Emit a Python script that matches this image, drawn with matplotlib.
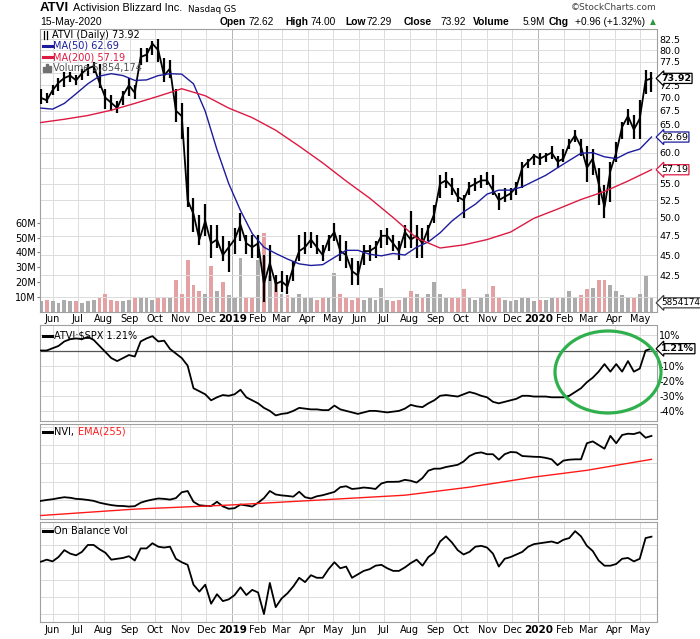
import pandas as pd
import matplotlib
matplotlib.use("Agg")
import matplotlib.pyplot as plt
from matplotlib.lines import Line2D
from matplotlib.patches import Ellipse, Rectangle
from matplotlib.ticker import NullLocator

W, H = 700, 639

# weekly bars (Fridays), 18-May-2018 .. 15-May-2020
first_week = "2018-05-18"
close = [70.0, 69.5, 71.5, 73.0, 74.0, 74.5, 73.5, 75.0, 76.0, 76.5,
         73.0, 70.0, 69.0, 68.0, 70.5, 72.5, 71.0, 78.5, 79.0, 81.5,
         80.0, 74.5, 76.0, 67.5, 66.5, 52.5, 50.5, 47.0, 49.5, 46.5,
         47.0, 45.0, 46.0, 47.0, 49.0, 46.5, 46.0, 46.5, 41.5, 44.0,
         41.5, 41.8, 41.2, 43.5, 45.5, 46.0, 47.0, 46.0, 45.0, 47.0,
         48.0, 45.5, 45.0, 43.0, 42.5, 45.5, 45.5, 46.0, 47.5, 47.5,
         46.5, 45.5, 48.0, 47.0, 47.5, 46.5, 48.5, 50.5, 55.0, 55.5,
         54.5, 53.0, 52.5, 54.5, 55.0, 55.5, 55.5, 54.0, 52.5, 53.0,
         53.5, 54.5, 57.5, 58.5, 59.5, 59.0, 59.5, 60.0, 58.5, 59.0,
         61.5, 63.0, 61.0, 57.5, 59.0, 55.0, 51.5, 57.0, 60.0, 64.5,
         66.5, 64.0, 66.0, 73.5, 73.92]
high = [71.8, 71.0, 72.5, 74.0, 75.3, 75.3, 74.6, 76.0, 77.0, 77.5,
        77.0, 71.8, 70.5, 69.3, 71.3, 73.9, 72.5, 80.5, 80.5, 82.0,
        82.6, 78.2, 77.8, 71.8, 69.0, 64.5, 52.8, 50.4, 52.0, 49.0,
        48.9, 47.5, 46.8, 48.5, 50.6, 47.6, 47.6, 47.6, 45.0, 46.3,
        42.6, 43.0, 42.6, 44.2, 47.6, 48.0, 48.0, 47.6, 46.3, 47.6,
        49.2, 47.6, 46.8, 44.6, 44.2, 46.3, 46.3, 46.8, 48.3, 48.5,
        47.6, 46.8, 48.9, 50.9, 48.9, 48.5, 48.9, 51.8, 56.3, 56.8,
        55.8, 54.3, 53.3, 55.3, 55.8, 56.3, 56.8, 56.3, 53.5, 54.3,
        54.3, 55.3, 58.5, 59.0, 59.8, 60.0, 60.0, 61.2, 59.5, 60.7,
        62.4, 63.9, 62.4, 61.2, 60.7, 57.4, 54.8, 58.5, 61.8, 65.4,
        67.9, 66.6, 69.5, 75.7, 75.3]
low = [68.8, 69.0, 70.5, 71.4, 72.1, 73.2, 72.5, 73.5, 74.5, 75.0,
       72.0, 67.9, 67.5, 67.0, 68.5, 70.4, 69.8, 76.8, 77.3, 79.0,
       77.5, 73.2, 73.9, 65.4, 62.4, 51.5, 48.0, 46.3, 47.5, 44.6,
       45.9, 44.2, 42.9, 45.1, 46.8, 45.1, 44.6, 44.6, 39.4, 41.8,
       40.6, 40.6, 40.3, 41.8, 44.2, 45.1, 45.9, 45.1, 44.2, 45.5,
       46.8, 44.2, 43.4, 41.4, 41.4, 43.8, 44.2, 44.6, 45.9, 46.3,
       45.5, 44.4, 45.9, 45.9, 44.6, 44.6, 46.8, 49.2, 52.8, 54.3,
       53.3, 52.3, 49.9, 53.3, 53.8, 54.3, 54.8, 53.3, 51.1, 52.3,
       52.5, 53.3, 54.3, 57.4, 58.0, 58.0, 58.5, 59.0, 57.4, 58.5,
       60.7, 61.8, 59.5, 55.3, 56.3, 51.8, 49.9, 52.3, 58.5, 62.4,
       64.8, 62.4, 62.4, 70.8, 71.1]
volume_m = [7, 8, 7, 6, 8, 7, 7, 6, 7, 8,
            9, 12, 8, 7, 7, 8, 9, 10, 9, 8,
            9, 10, 9, 21, 12, 35, 18, 14, 12, 31,
            14, 20, 11, 10, 36, 10, 9, 35, 53, 25,
            20, 12, 11, 10, 12, 9, 9, 8, 10, 9,
            26, 12, 10, 8, 9, 8, 9, 8, 16, 8,
            7, 8, 10, 14, 12, 10, 12, 20, 12, 9,
            9, 10, 15, 9, 8, 9, 12, 17, 9, 8,
            7, 8, 10, 9, 7, 8, 8, 9, 10, 9,
            14, 10, 11, 15, 16, 21, 21, 18, 14, 11,
            10, 9, 12, 24, 10]
last_volume = 5854174

# moving averages: MA(50) every 2nd week, MA(200) every 4th week
ma50 = [68.0, 67.8, 68.9, 70.8, 72.8, 74.4, 74.9, 74.5, 73.5, 73.6,
        74.5, 74.9, 74.8, 72.8, 67.4, 60.5, 55.0, 51.0, 47.8, 46.0,
        45.2, 44.5, 43.9, 43.7, 43.8, 44.7, 45.6, 45.6, 45.1, 44.9,
        45.2, 45.0, 46.0, 46.7, 47.9, 49.5, 50.8, 51.9, 53.4, 54.0,
        54.0, 54.5, 55.4, 56.3, 57.5, 58.7, 59.9, 60.0, 59.3, 59.0,
        60.0, 60.6, 62.69]
ma200 = [65.3, 65.9, 66.6, 67.6, 68.9, 70.3, 71.8, 70.4, 68.0, 66.2,
         63.9, 61.1, 58.3, 55.4, 52.8, 50.0, 47.2, 45.9, 46.3, 47.0,
         48.0, 49.9, 51.2, 52.6, 53.8, 55.4, 57.19]

# ATVI:$SPX relative performance (%)
rel_spx = [0, 0, 1.5, 3, 6, 7.5, 8, 7.5, 9, 7,
           3, -1, -5, -7, -5, -3, -4, 6, 8, 9.5,
           6, 6.5, 1, -2, -5, -10, -25, -27, -29, -33,
           -31, -29.5, -30, -29, -26, -31, -33, -35, -38, -40,
           -43, -42, -41.5, -40, -38, -38.5, -39, -39, -39.5, -39.5,
           -36.5, -39, -40, -41, -42, -41, -40, -40, -40.5, -41,
           -40.5, -40, -38.5, -36, -37, -37.5, -35, -33, -30, -29.5,
           -30, -30.5, -29, -27.5, -28.5, -30, -31, -34, -35, -34,
           -33, -32, -30, -30, -30.5, -30.5, -30.5, -31, -31, -31,
           -30, -27.5, -25, -21, -18, -14, -9, -14, -9, -14,
           -7, -14, -12, 0, 1.21]

# NVI and its EMA(255) (no scale shown, relative units)
nvi = [0.95, 1.0, 1.04, 1.1, 1.15, 1.12, 1.06, 1.04, 1.0, 0.95,
       0.85, 0.78, 0.72, 0.68, 0.67, 0.64, 0.66, 0.85, 0.95, 1.02,
       1.08, 1.06, 1.02, 1.1, 1.42, 1.49, 0.9, 0.71, 0.68, 0.67,
       0.9, 0.65, 0.52, 0.55, 0.75, 0.7, 0.64, 0.85, 1.1, 1.49,
       1.3, 1.25, 1.22, 1.18, 1.45, 1.15, 1.08, 1.2, 1.26, 1.35,
       1.44, 1.7, 1.75, 1.6, 1.63, 1.68, 1.65, 1.6, 1.9, 1.99,
       1.99, 2.0, 2.1, 2.05, 1.95, 2.2, 2.6, 2.71, 2.71, 2.8,
       2.86, 2.92, 3.1, 3.4, 3.55, 3.6, 3.5, 3.5, 3.2, 3.5,
       3.62, 3.6, 3.4, 3.38, 3.36, 3.35, 3.3, 3.22, 2.9, 3.15,
       3.2, 3.22, 3.22, 4.1, 4.2, 4.0, 3.8, 4.5, 4.1, 4.55,
       4.62, 4.6, 4.7, 4.4, 4.5]
nvi_ema_weeks = [0, 16, 32, 46, 62, 73, 84, 93, 104]
nvi_ema = [0.15, 0.5, 0.72, 0.97, 1.26, 1.7, 2.25, 2.62, 3.22]

# On Balance Volume (relative units)
obv = [3.03, 3.15, 3.05, 3.3, 3.7, 3.5, 3.4, 3.6, 4.0, 4.0,
       3.75, 3.55, 3.15, 3.2, 3.25, 3.35, 3.1, 3.8, 3.8, 4.1,
       3.9, 3.85, 3.9, 3.2, 3.0, 2.85, 1.7, 1.3, 1.7, 0.6,
       1.15, 0.75, 0.85, 1.1, 1.55, 1.1, 1.4, 1.25, 0.0, 1.8,
       0.4, 0.9, 1.2, 1.6, 2.1, 1.85, 2.25, 2.1, 2.1, 2.6,
       3.0, 2.65, 2.75, 2.1, 2.3, 2.5, 2.6, 2.8, 2.85, 2.65,
       2.5, 2.5, 2.7, 2.95, 3.15, 2.8, 3.3, 3.55, 4.2, 4.5,
       4.15, 3.7, 3.45, 3.6, 3.9, 3.95, 3.85, 3.5, 2.75, 3.2,
       3.3, 3.45, 3.6, 3.9, 4.05, 4.1, 4.15, 4.2, 4.1, 4.3,
       4.4, 4.8, 4.5, 3.95, 3.65, 3.1, 2.8, 2.8, 2.9, 3.2,
       3.25, 3.05, 3.2, 4.4, 4.48]

price_ticks = [40.0, 42.5, 45.0, 47.5, 50.0, 52.5, 55.0, 57.5, 60.0, 62.5,
               65.0, 67.5, 70.0, 72.5, 75.0, 77.5, 80.0, 82.5]
hidden_price_labels = [40.0, 57.5, 62.5, 75.0]   # covered by the value tags
vol_ticks = [10, 20, 30, 40, 50, 60]
rel_ticks = [10, -10, -20, -30, -40]

weeks = pd.date_range(first_week, periods=len(close), freq="7D")
months = pd.date_range("2018-06-01", "2020-05-01", freq="MS")
month_labels = [str(m.year) if m.month == 1 else m.strftime("%b") for m in months]
x_start, x_end = pd.Timestamp("2018-05-17"), pd.Timestamp("2020-05-21")

C_MA50 = "#1c1c9c"
C_MA200 = "#dc1a42"
GRID = "#dcdcdc"

fig = plt.figure(figsize=(W / 100, H / 100), dpi=100)


def rect(top, bottom):
    return [40 / W, 1 - bottom / H, 616.5 / W, (bottom - top) / H]


def px(x, y):
    return x / W, 1 - y / H


def frame(ax, labels=False):
    ax.set_xlim(x_start, x_end)
    for s in ax.spines.values():
        s.set_color("#a0a0a0")
        s.set_linewidth(0.8)
    ax.set_xticks(months)
    if labels:
        ax.set_xticklabels(month_labels, fontsize=7)
        for t in ax.get_xticklabels():
            if t.get_text().isdigit():
                t.set_fontweight("bold")
                t.set_fontsize(7.5)
    else:
        ax.set_xticklabels([])
    ax.tick_params(axis="x", length=0, pad=2)
    ax.yaxis.tick_right()
    ax.tick_params(axis="y", length=0, labelsize=7, pad=2)


def month_lines(ax):
    for m in months:
        ax.axvline(m, color="#b4b4b4" if m.month == 1 else GRID, lw=0.7, zorder=0)


def tag(ax, y, text, ec, coords=None, bold=False, size=6.8):
    ax.annotate(text, xy=(1, y), xycoords=coords or ax.get_yaxis_transform(),
                xytext=(3.5, 0), textcoords="offset points", ha="left", va="center",
                fontsize=size, fontweight="bold" if bold else "normal", color="black",
                bbox=dict(boxstyle="larrow,pad=0.06", fc="white", ec=ec, lw=0.9),
                annotation_clip=False, zorder=6)


# ---- price panel with volume underneath
ax_vol = fig.add_axes(rect(29, 311.5))
up = [True] + [close[i] >= close[i - 1] for i in range(1, len(close))]
ax_vol.bar(weeks, volume_m, width=4.6, color=["#ababab" if u else "#e3a1a4" for u in up],
           align="center", zorder=2)
ax_vol.set_ylim(0, 282.5 / 1.48)
ax_vol.set_xlim(x_start, x_end)
ax_vol.set_xticks([])
ax_vol.set_yticks(vol_ticks)
ax_vol.set_yticklabels(["%dM" % v for v in vol_ticks])
ax_vol.tick_params(axis="y", length=2, labelsize=7, pad=1, color="#808080")
for s in ax_vol.spines.values():
    s.set_visible(False)
month_lines(ax_vol)

ax = fig.add_axes(rect(29, 311.5))
ax.set_facecolor("none")
ax.set_yscale("log")
ax.set_ylim(38.40, 84.92)
ax.set_yticks(price_ticks)
ax.set_yticklabels(["" if t in hidden_price_labels else "%.1f" % t for t in price_ticks])
ax.yaxis.set_minor_locator(NullLocator())
ax.grid(axis="y", color=GRID, lw=0.7)
ax.set_axisbelow(True)
frame(ax, labels=True)
ax.tick_params(axis="y", labelsize=6.8)

ax.vlines(weeks, low, high, color="black", lw=1.6, zorder=3)
ax.plot(weeks, close, color="black", lw=1.3, zorder=3)
ax.plot(weeks[::2], ma50, color=C_MA50, lw=1.0, zorder=4)
ax.plot(weeks[::4], ma200, color=C_MA200, lw=1.0, zorder=4)

tag(ax, close[-1], "%.2f" % close[-1], "black", bold=True)
tag(ax, ma50[-1], "%.2f" % ma50[-1], C_MA50)
tag(ax, ma200[-1], "%.2f" % ma200[-1], C_MA200)
tag(ax, last_volume / 1e6, str(last_volume), "#404040", coords=ax_vol.get_yaxis_transform(), size=6.3)

# legend of price panel
for x0 in (43.5, 47.5):
    fig.add_artist(Line2D([px(x0, 0)[0]] * 2, [px(0, 31)[1], px(0, 39)[1]], color="black", lw=0.9))
fig.text(*px(52, 35), "ATVI (Daily) %.2f" % close[-1], fontsize=7, va="center")
fig.add_artist(Line2D([px(43, 0)[0], px(52, 0)[0]], [px(0, 46)[1]] * 2, color=C_MA50, lw=2.2))
fig.text(*px(53, 46), "MA(50) %.2f" % ma50[-1], fontsize=7, va="center", color=C_MA50)
fig.add_artist(Line2D([px(43, 0)[0], px(52, 0)[0]], [px(0, 57)[1]] * 2, color=C_MA200, lw=2.2))
fig.text(*px(53, 57), "MA(200) %.2f" % ma200[-1], fontsize=7, va="center", color=C_MA200)
for i, hh in enumerate((5, 8, 6)):
    fig.add_artist(Rectangle(px(43 + i * 3, 72), 2.2 / W, hh / H, color="#707070"))
fig.text(*px(53, 68), "Volume {:,}".format(last_volume), fontsize=7, va="center", color="#505050")

# ---- ATVI:$SPX panel
ax2 = fig.add_axes(rect(325, 421))
frame(ax2)
month_lines(ax2)
ax2.set_ylim(-46.7, 16.9)
ax2.set_yticks(rel_ticks)
ax2.set_yticklabels(["%d%%" % t for t in rel_ticks])
ax2.grid(axis="y", color=GRID, lw=0.7)
ax2.set_axisbelow(True)
ax2.axhline(0, color="#555555", lw=0.9, zorder=1)
ax2.plot(weeks, rel_spx, color="black", lw=1.3, zorder=3)
tag(ax2, rel_spx[-1], "%.2f%%" % rel_spx[-1], "black", bold=True)
fig.add_artist(Line2D([px(43, 0)[0], px(52, 0)[0]], [px(0, 336)[1]] * 2, color="black", lw=2.2))
fig.text(*px(54, 336), "ATVI:$SPX %.2f%%" % rel_spx[-1], fontsize=7, va="center")

fig.add_artist(Ellipse(px(608, 372), 106 / W, 82 / H, transform=fig.transFigure,
                       fill=False, ec="#2fb04c", lw=2.3))

# ---- NVI panel
ax3 = fig.add_axes(rect(424, 519))
frame(ax3)
month_lines(ax3)
ax3.set_ylim(-0.04, 5.15)
ax3.set_yticks([1, 2, 3, 4, 5])
ax3.set_yticklabels([])
ax3.grid(axis="y", color=GRID, lw=0.7)
ax3.set_axisbelow(True)
ax3.plot(weeks, nvi, color="black", lw=1.3, zorder=3)
ax3.plot(weeks[nvi_ema_weeks], nvi_ema, color="#ff1a1a", lw=1.0, zorder=3)
fig.add_artist(Line2D([px(43, 0)[0], px(52, 0)[0]], [px(0, 432)[1]] * 2, color="black", lw=2.2))
fig.text(*px(54, 432), "NVI,", fontsize=7, va="center")
fig.text(*px(78, 432), "EMA(255)", fontsize=7, va="center", color="#ff1a1a")

# ---- On Balance Volume panel
ax4 = fig.add_axes(rect(522, 622))
frame(ax4, labels=True)
month_lines(ax4)
ax4.set_ylim(-0.46, 5.33)
ax4.set_yticks([0, 1, 2, 3, 4, 5])
ax4.set_yticklabels([])
ax4.grid(axis="y", color=GRID, lw=0.7)
ax4.set_axisbelow(True)
ax4.plot(weeks, obv, color="black", lw=1.3, zorder=3)
fig.add_artist(Line2D([px(43, 0)[0], px(52, 0)[0]], [px(0, 531)[1]] * 2, color="black", lw=2.2))
fig.text(*px(54, 531), "On Balance Vol", fontsize=7, va="center")

# ---- header
hdr = "Liberation Sans"
fig.text(*px(40, 8), "ATVI", fontsize=9.5, fontweight="bold", va="center", family=hdr)
fig.text(*px(73, 8), "Activision Blizzard Inc.", fontsize=7.8, va="center", family=hdr)
fig.text(*px(188, 9), "Nasdaq GS", fontsize=6.3, va="center", family="DejaVu Sans")
fig.text(*px(40, 22), "15-May-2020", fontsize=7.5, va="center", family=hdr)
fig.text(*px(656, 7), "\u00a9StockCharts.com", fontsize=6.5, va="center", ha="right",
         color="#404040", family="DejaVu Sans")
quote = [(220, "Open", True), (249, "72.62", False), (285, "High", True), (311, "74.00", False),
         (345, "Low", True), (367, "72.29", False), (404, "Close", True), (441, "73.92", False),
         (473, "Volume", True), (523, "5.9M", False), (549, "Chg", True),
         (575, "+0.96 (+1.32%)", False)]
for x, txt, b in quote:
    fig.text(*px(x, 22), txt, fontsize=7.4 if b else 7.3, fontweight="bold" if b else "normal",
             va="center", family=hdr)
fig.text(*px(650, 22), "\u25b2", fontsize=5.5, va="center", color="#2a9a3a")

fig.savefig("out.png", dpi=100, facecolor="white")
